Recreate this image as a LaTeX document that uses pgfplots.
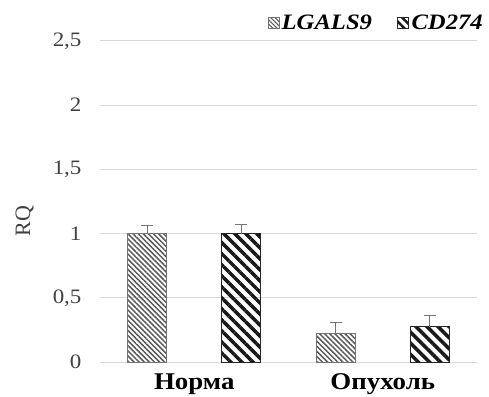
\documentclass[border=0pt]{standalone}
\usepackage{fontspec}
\setmainfont{Liberation Serif}[FakeStretch=1.12]
\newfontfamily\plainserif{Liberation Serif}
\usepackage{pgfplots}
\pgfplotsset{compat=1.18}
\usetikzlibrary{patterns.meta}
\begin{document}
\begin{tikzpicture}
\useasboundingbox (0,0) rectangle (489pt,396pt);
\begin{axis}[
 at={(100pt,34pt)}, anchor=south west,
 scale only axis, width=377pt, height=321pt,
 xmin=-0.5, xmax=1.5, ymin=0, ymax=2.5,
 xtick={0,1}, xticklabels={Норма,Опухоль},
 ytick={0,0.5,1,1.5,2,2.5},
 axis line style={draw=none},
 major tick length=0pt,
 ymajorgrids, major grid style={draw=black!15, line width=1pt},
 /pgf/number format/use comma,
 /pgf/number format/assume math mode=true,
 yticklabel style={font=\fontsize{20.5}{24}\selectfont, text=black!75, xshift=-15pt},
 xticklabel style={font=\fontsize{24}{27}\selectfont\bfseries, yshift=-8pt},
 ylabel={RQ},
 ylabel style={font=\plainserif\fontsize{22}{24}\selectfont, text=black!75, at={(axis description cs:-0.2,0.44)}, anchor=center},
 legend columns=2,
 legend style={at={(1.021,1.055)}, anchor=east, draw=none, fill=none,
   font=\fontsize{22}{24}\selectfont\bfseries\itshape, inner sep=0pt,
   /tikz/every even column/.append style={column sep=22pt}},
 error bars/y dir=plus, error bars/y explicit,
 error bars/error bar style={draw=black!55, line width=1pt},
 error bars/error mark options={rotate=90, mark size=6pt, draw=black!55, line width=1pt},
]
\addplot[ybar, bar width=39pt, bar shift=0pt, draw=black!55, line width=1pt,
  pattern={Lines[angle=-45,distance=3.6pt,line width=1.5pt]}, pattern color=black!65,
  legend image code/.code={\draw[draw=black!55, line width=1pt, pattern={Lines[angle=-45,distance=3pt,line width=1.2pt]}, pattern color=black!65] (0pt,-5pt) rectangle (11pt,6pt);}]
  coordinates {(-0.25,1.0) +- (0,0.06) (0.75,0.22) +- (0,0.09)};
\addlegendentry{LGALS9}
\addplot[ybar, bar width=39pt, bar shift=0pt, draw=black!85, line width=1pt,
  pattern={Lines[angle=-45,distance=7.8pt,line width=3.5pt]}, pattern color=black!90,
  legend image code/.code={\draw[draw=black!85, line width=1pt, pattern={Lines[angle=-45,distance=6pt,line width=2.5pt]}, pattern color=black!90] (0pt,-5pt) rectangle (11pt,6pt);}]
  coordinates {(0.25,1.0) +- (0,0.07) (1.25,0.275) +- (0,0.085)};
\addlegendentry{CD274}
\end{axis}
\end{tikzpicture}
\end{document}
